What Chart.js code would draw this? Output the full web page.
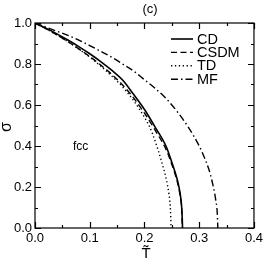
<!DOCTYPE html>
<html><head><meta charset="utf-8">
<script src="https://cdn.jsdelivr.net/npm/chart.js@4.4.0/dist/chart.umd.min.js"></script>
<style>html,body{margin:0;padding:0;background:#fff}#wrap{width:266px;height:263px}</style>
</head><body><div id="wrap"><canvas id="c" width="266" height="263"></canvas></div>
<script>
// ---- data ----
const seriesNames = ["CD", "CSDM", "TD", "MF"];
const tCD   = [0,0.02,0.04,0.06,0.08,0.10,0.12,0.14,0.16,0.18,0.20,0.22,0.24,0.25,0.26,0.265,0.268,0.2692,0.2695];
const sCD   = [1,0.975,0.947,0.917,0.885,0.85,0.812,0.77,0.722,0.652,0.578,0.49,0.395,0.32,0.235,0.17,0.10,0.03,0];
const tCSDM = [0,0.02,0.04,0.06,0.08,0.10,0.12,0.14,0.16,0.18,0.20,0.22,0.24,0.25,0.26,0.265,0.268,0.2688,0.269];
const sCSDM = [1,0.972,0.942,0.909,0.874,0.836,0.795,0.75,0.698,0.635,0.56,0.475,0.38,0.31,0.225,0.16,0.09,0.03,0];
const tTD   = [0,0.02,0.04,0.06,0.08,0.10,0.12,0.14,0.16,0.18,0.20,0.21,0.22,0.23,0.24,0.245,0.247,0.248,0.2485];
const sTD   = [1,0.972,0.942,0.909,0.873,0.834,0.79,0.742,0.688,0.622,0.54,0.49,0.42,0.335,0.235,0.16,0.11,0.05,0];
const tMF   = [0,0.02,0.04,0.06,0.08,0.10,0.12,0.14,0.16,0.18,0.20,0.22,0.24,0.26,0.28,0.30,0.31,0.32,0.325,0.33,0.333,0.334];
const sMF   = [1,0.98,0.96,0.94,0.917,0.89,0.862,0.833,0.80,0.766,0.723,0.68,0.63,0.567,0.492,0.40,0.34,0.265,0.21,0.14,0.07,0];
const xTicks = [0, 0.1, 0.2, 0.3, 0.4];
const yTicks = [0, 0.2, 0.4, 0.6, 0.8, 1.0];
const titleText = "(c)";
const xTitle = "T\u0303";
const yTitle = "\u03C3";
const noteText = "fcc";

const styles = [[], [6, 3.5], [1.3, 2.6], [7, 3, 1.5, 3]];
const pairs = [[tCD, sCD], [tCSDM, sCSDM], [tTD, sTD], [tMF, sMF]];

const datasets = pairs.map((p, i) => ({
  label: seriesNames[i],
  data: p[0].map((x, k) => ({x: x, y: p[1][k]})),
  borderColor: '#000',
  borderWidth: i === 0 ? 1.6 : 1.4,
  borderDash: styles[i],
  pointRadius: 0,
  fill: false,
  cubicInterpolationMode: 'monotone'
}));

Chart.defaults.color = '#000';
Chart.defaults.font.family = '"Liberation Sans", Arial, sans-serif';

const deco = {
  id: 'deco',
  afterDraw(chart) {
    const ctx = chart.ctx, a = chart.chartArea;
    const xs = chart.scales.x, ys = chart.scales.y;
    ctx.save();
    ctx.strokeStyle = '#000';
    ctx.lineWidth = 1.2;
    ctx.setLineDash([]);
    ctx.strokeRect(a.left, a.top, a.right - a.left, a.bottom - a.top);
    // x ticks (major 0.1, minor 0.05)
    for (let i = 0; i <= 8; i++) {
      const v = i * 0.05, L = (i % 2 === 0) ? 6 : 3;
      const px = Math.round(xs.getPixelForValue(v)) + 0.5;
      ctx.beginPath();
      ctx.moveTo(px, a.bottom); ctx.lineTo(px, a.bottom - L);
      ctx.moveTo(px, a.top); ctx.lineTo(px, a.top + L);
      ctx.stroke();
    }
    for (let i = 0; i <= 10; i++) {
      const v = i * 0.1, L = (i % 2 === 0) ? 6 : 3;
      const py = Math.round(ys.getPixelForValue(v)) + 0.5;
      ctx.beginPath();
      ctx.moveTo(a.left, py); ctx.lineTo(a.left + L, py);
      ctx.moveTo(a.right, py); ctx.lineTo(a.right - L, py);
      ctx.stroke();
    }
    // texts
    ctx.fillStyle = '#000';
    ctx.textAlign = 'center';
    ctx.textBaseline = 'middle';
    ctx.font = '13px "Liberation Sans", Arial, sans-serif';
    ctx.fillText(titleText, 150, 9);
    ctx.font = '15px "Liberation Sans", Arial, sans-serif';
    ctx.fillText(xTitle, 146, 254);
    ctx.save();
    ctx.translate(7, 127);
    ctx.rotate(-Math.PI / 2);
    ctx.font = '16px "Liberation Sans", Arial, sans-serif';
    ctx.fillText(yTitle, 0, 0);
    ctx.restore();
    ctx.font = '12px "Liberation Sans", Arial, sans-serif';
    ctx.textAlign = 'left';
    ctx.fillText(noteText, 73, 147);
    // legend
    ctx.font = '14.5px "Liberation Sans", Arial, sans-serif';
    chart.data.datasets.forEach((d, i) => {
      const y = 39 + i * 13.4;
      ctx.lineWidth = d.borderWidth;
      ctx.setLineDash(d.borderDash);
      ctx.beginPath();
      ctx.moveTo(171, y); ctx.lineTo(193, y);
      ctx.stroke();
      ctx.setLineDash([]);
      ctx.fillText(d.label, 197, y + 0.5);
    });
    ctx.restore();
  }
};

new Chart(document.getElementById('c'), {
  type: 'line',
  data: {datasets},
  options: {
    responsive: false,
    animation: false,
    events: [],
    layout: {autoPadding: false, padding: {top: 23, right: 10, left: 0, bottom: 0}},
    plugins: {legend: {display: false}, tooltip: {enabled: false}, title: {display: false}},
    scales: {
      x: {
        type: 'linear', min: 0, max: 0.4,
        afterFit: s => { s.height = 35; },
        afterBuildTicks: s => { s.ticks = xTicks.map(v => ({value: v})); },
        grid: {display: false, drawTicks: false},
        border: {display: false},
        ticks: {padding: 3, maxRotation: 0, font: {size: 13}, callback: v => v.toFixed(1)}
      },
      y: {
        type: 'linear', min: 0, max: 1,
        afterFit: s => { s.width = 35; },
        afterBuildTicks: s => { s.ticks = yTicks.map(v => ({value: v})); },
        grid: {display: false, drawTicks: false},
        border: {display: false},
        ticks: {padding: 3, font: {size: 13}, callback: v => v.toFixed(1)}
      }
    }
  },
  plugins: [deco]
});
</script>
</body></html>
